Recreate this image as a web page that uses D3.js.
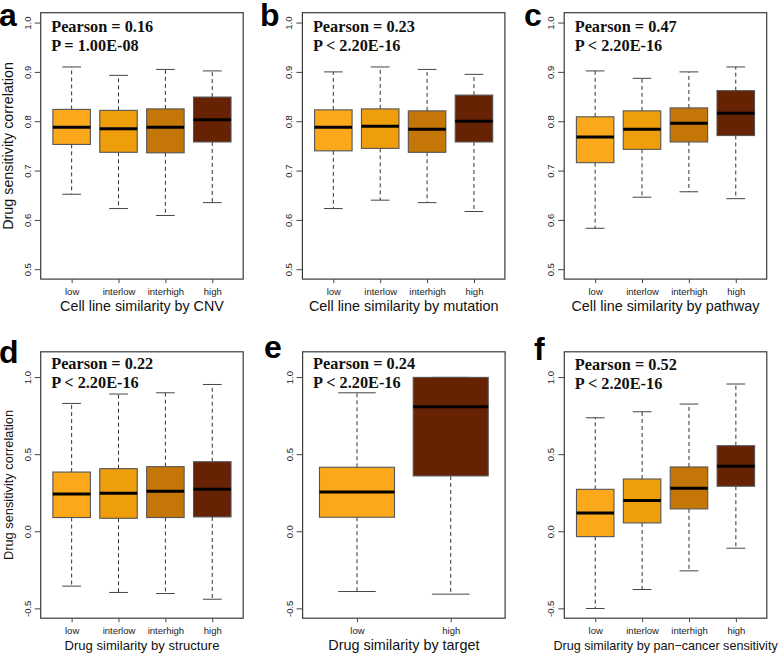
<!DOCTYPE html>
<html>
<head>
<meta charset="utf-8">
<script src="https://cdn.jsdelivr.net/npm/d3@7"></script>
<style>
  html, body { margin: 0; padding: 0; background: #fff; }
  svg { display: block; }
</style>
</head>
<body>
<svg id="chart" width="778" height="654"></svg>
<script>
// ---------------- DATA ----------------
const catsFour = ["low", "interlow", "interhigh", "high"];
const catsTwo = ["low", "high"];

// each box: [lower whisker, Q1, median, Q3, upper whisker]
const statsA = [[0.652, 0.753, 0.788, 0.824, 0.910], [0.623, 0.737, 0.785, 0.822, 0.893], [0.609, 0.736, 0.788, 0.825, 0.905], [0.635, 0.758, 0.803, 0.849, 0.902]];
const statsB = [[0.623, 0.740, 0.788, 0.823, 0.900], [0.640, 0.745, 0.790, 0.825, 0.910], [0.635, 0.737, 0.784, 0.821, 0.905], [0.617, 0.758, 0.800, 0.853, 0.895]];
const statsC = [[0.583, 0.716, 0.768, 0.809, 0.902], [0.646, 0.743, 0.784, 0.821, 0.887], [0.657, 0.758, 0.796, 0.827, 0.900], [0.643, 0.771, 0.816, 0.862, 0.910]];
const statsD = [[-0.356, 0.089, 0.242, 0.384, 0.829], [-0.397, 0.084, 0.246, 0.406, 0.890], [-0.404, 0.089, 0.259, 0.419, 0.898], [-0.441, 0.093, 0.272, 0.451, 0.952]];
const statsE = [[-0.391, 0.091, 0.255, 0.415, 0.898], [-0.408, 0.359, 0.808, 0.998, 0.998]];
const statsF = [[-0.501, -0.035, 0.119, 0.272, 0.736], [-0.378, 0.054, 0.199, 0.339, 0.775], [-0.257, 0.145, 0.279, 0.417, 0.825], [-0.110, 0.292, 0.421, 0.555, 0.955]];

const yLimTop = [0.5, 1.0];
const yLimBottom = [-0.5, 1.1];
const yTicksTop = [0.5, 0.6, 0.7, 0.8, 0.9, 1.0];
const yTicksBottom = [-0.5, 0.0, 0.5, 1.0];

const pearsonLabels = ["Pearson = 0.16", "Pearson = 0.23", "Pearson = 0.47", "Pearson = 0.22", "Pearson = 0.24", "Pearson = 0.52"];
const pLabels = ["P = 1.00E-08", "P < 2.20E-16", "P < 2.20E-16", "P < 2.20E-16", "P < 2.20E-16", "P < 2.20E-16"];
const xTitles = ["Cell line similarity by CNV", "Cell line similarity by mutation", "Cell line similarity by pathway", "Drug similarity by structure", "Drug similarity by target", "Drug similarity by pan\u2212cancer sensitivity"];
const panelLetters = ["a", "b", "c", "d", "e", "f"];
const yTitle = "Drug sensitivity correlation";

// ---------------- STYLE ----------------
const colorsFour = ["#FBA91A", "#EE9E0B", "#C47706", "#672204"];
const colorsTwo = ["#FBA91A", "#672204"];
const sans = "'Liberation Sans', Arial, Helvetica, sans-serif";
const serif = "'Liberation Serif', 'Times New Roman', serif";

// ---------------- LAYOUT ----------------
const plotW = 202.5, plotH = 266.4;
const panels = [
  { left: 40.7, top: 12.7, stats: statsA, cats: catsFour, colors: colorsFour, lim: yLimTop, ticks: yTicksTop, letterX: -1, letterY: 26, yt: 14.3, xt: 14.3, textDy: 19 },
  { left: 302.4, top: 12.7, stats: statsB, cats: catsFour, colors: colorsFour, lim: yLimTop, ticks: yTicksTop, letterX: 260, letterY: 26, yt: 0, xt: 14.4, textDy: 19 },
  { left: 564.2, top: 12.7, stats: statsC, cats: catsFour, colors: colorsFour, lim: yLimTop, ticks: yTicksTop, letterX: 524, letterY: 26, yt: 0, xt: 14.4, textDy: 19 },
  { left: 40.7, top: 351.8, stats: statsD, cats: catsFour, colors: colorsFour, lim: yLimBottom, ticks: yTicksBottom, letterX: -1, letterY: 363, yt: 12.8, xt: 13.1, textDy: 17 },
  { left: 302.6, top: 351.8, stats: statsE, cats: catsTwo, colors: colorsTwo, lim: yLimBottom, ticks: yTicksBottom, letterX: 264, letterY: 358, yt: 0, xt: 14.4, textDy: 17 },
  { left: 564.3, top: 351.8, stats: statsF, cats: catsFour, colors: colorsFour, lim: yLimBottom, ticks: yTicksBottom, letterX: 534, letterY: 360, yt: 0, xt: 12.6, textDy: 18 }
];

const svg = d3.select("#chart");

panels.forEach((p, pi) => {
  const g = svg.append("g");
  const n = p.cats.length;
  const ext = (lo, hi) => { const r = hi - lo; return [lo - 0.04 * r, hi + 0.04 * r]; };
  const x = d3.scaleLinear().domain(ext(0.5, n + 0.5)).range([p.left, p.left + plotW]);
  const y = d3.scaleLinear().domain(ext(p.lim[0], p.lim[1])).range([p.top + plotH, p.top]);
  const bw = x(1.4) - x(0.6);
  const capW = bw / 2;

  // boxes
  p.stats.forEach((s, i) => {
    const cx = x(i + 1);
    const [lo, q1, med, q3, hi] = s;
    g.append("line").attr("x1", cx).attr("x2", cx).attr("y1", y(q3)).attr("y2", y(hi))
      .attr("stroke", "#333").attr("stroke-width", 1).attr("stroke-dasharray", "4,3");
    g.append("line").attr("x1", cx).attr("x2", cx).attr("y1", y(q1)).attr("y2", y(lo))
      .attr("stroke", "#333").attr("stroke-width", 1).attr("stroke-dasharray", "4,3");
    g.append("line").attr("x1", cx - capW / 2).attr("x2", cx + capW / 2).attr("y1", y(hi)).attr("y2", y(hi))
      .attr("stroke", "#444").attr("stroke-width", 1);
    g.append("line").attr("x1", cx - capW / 2).attr("x2", cx + capW / 2).attr("y1", y(lo)).attr("y2", y(lo))
      .attr("stroke", "#444").attr("stroke-width", 1);
    g.append("rect").attr("x", cx - bw / 2).attr("width", bw)
      .attr("y", y(q3)).attr("height", y(q1) - y(q3))
      .attr("fill", p.colors[i]).attr("stroke", "#555").attr("stroke-width", 1.1);
    g.append("line").attr("x1", cx - bw / 2).attr("x2", cx + bw / 2).attr("y1", y(med)).attr("y2", y(med))
      .attr("stroke", "#000").attr("stroke-width", 3);
  });

  // frame
  g.append("rect").attr("x", p.left).attr("y", p.top).attr("width", plotW).attr("height", plotH)
    .attr("fill", "none").attr("stroke", "#3a3a3a").attr("stroke-width", 1.2);

  // y axis
  const ya = g.append("g").attr("transform", `translate(${p.left},0)`)
    .call(d3.axisLeft(y).tickValues(p.ticks).tickFormat(d3.format(".1f")).tickSize(6).tickPadding(0));
  ya.select(".domain").remove();
  ya.selectAll(".tick line").attr("stroke", "#444");
  ya.selectAll(".tick text")
    .attr("x", null).attr("dy", null)
    .attr("transform", "translate(-10,0) rotate(-90)")
    .attr("text-anchor", "middle")
    .attr("font-family", sans).attr("font-size", 9.5).attr("fill", "#222")
    .text(d => d3.format(".1f")(d).replace("\u2212", "-"));

  // x axis
  const xa = g.append("g").attr("transform", `translate(0,${p.top + plotH})`)
    .call(d3.axisBottom(x).tickValues(d3.range(1, n + 1)).tickFormat(d => p.cats[d - 1]).tickSize(4).tickPadding(4));
  xa.select(".domain").remove();
  xa.selectAll(".tick line").attr("stroke", "#444");
  xa.selectAll(".tick text").attr("font-family", sans).attr("font-size", 9.5).attr("fill", "#222")
    .attr("dy", null).attr("y", 16);

  // x title
  g.append("text").attr("x", p.left + plotW / 2).attr("y", p.top + plotH + 31.5)
    .attr("text-anchor", "middle").attr("font-family", sans).attr("font-size", p.xt).attr("fill", "#111")
    .text(xTitles[pi]);

  // y title
  if (p.yt) {
    g.append("text").attr("transform", `translate(13,${p.top + plotH / 2}) rotate(-90)`)
      .attr("text-anchor", "middle").attr("font-family", sans).attr("font-size", p.yt).attr("fill", "#111")
      .text(yTitle);
  }

  // annotations
  g.append("text").attr("x", p.left + 10.5).attr("y", p.top + p.textDy)
    .attr("font-family", serif).attr("font-weight", "bold").attr("font-size", 16.3).attr("fill", "#111")
    .text(pearsonLabels[pi]);
  g.append("text").attr("x", p.left + 10.5).attr("y", p.top + p.textDy + 19.5)
    .attr("font-family", serif).attr("font-weight", "bold").attr("font-size", 16.3).attr("fill", "#111")
    .text(pLabels[pi]);

  // panel letter
  g.append("text").attr("x", p.letterX).attr("y", p.letterY)
    .attr("font-family", sans).attr("font-weight", "bold").attr("font-size", 32).attr("fill", "#000")
    .text(panelLetters[pi]);
});
</script>
</body>
</html>
